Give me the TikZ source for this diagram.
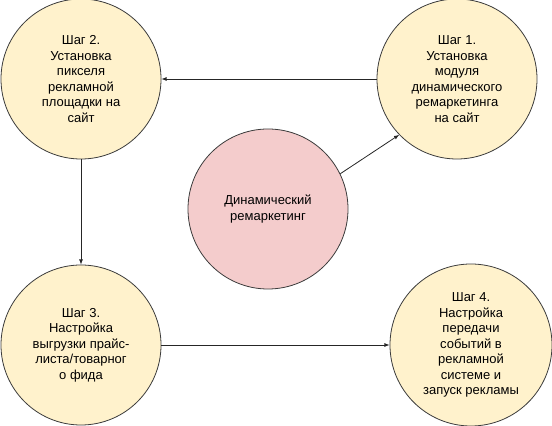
\documentclass[tikz,border=0pt]{standalone}
\usepackage{fontspec}
\setmainfont{Liberation Sans}
\definecolor{stepfill}{HTML}{FFF2CC}
\definecolor{corefill}{HTML}{F4CCCC}
\definecolor{edgegray}{HTML}{3C3C3C}
\begin{document}
\begin{tikzpicture}[
                        x=1pt, y=1pt,
                        >=latex,
                        stepnode/.style={circle, draw=edgegray, line width=0.8pt, fill=stepfill, minimum size=160pt, inner sep=0pt, align=center, font=\fontsize{13}{15.5}\selectfont},
                        corenode/.style={stepnode, fill=corefill},
                        link/.style={->, line width=0.8pt, draw=black!85}
                    ]
                    \useasboundingbox (0,0) rectangle (552,426);
                    % Blocks
                    \node [stepnode] (step2) at (81,347) {Шаг 2.\\Установка\\пикселя\\рекламной\\площадки на\\сайт};
                    \node [stepnode] (step1) at (457,347) {Шаг 1.\\Установка\\модуля\\динамического\\ремаркетинга\\на сайт};
                    \node [corenode] (core) at (268,217) {Динамический\\ремаркетинг};
                    \node [stepnode] (step3) at (81,81) {Шаг 3.\\Настройка\\выгрузки прайс-\\листа/товарног\\о фида};
                    \node [stepnode, minimum size=162pt] (step4) at (471,81) {Шаг 4.\\Настройка\\передачи\\событий в\\рекламной\\системе и\\запуск рекламы};

                    % Connections
                    \draw [link] (step1) -- (step2);
                    \draw [link] (core.26) -- (step1.224);
                    \draw [link] (step2) -- (step3);
                    \draw [link] (step3) -- (step4);
                \end{tikzpicture}
\end{document}
